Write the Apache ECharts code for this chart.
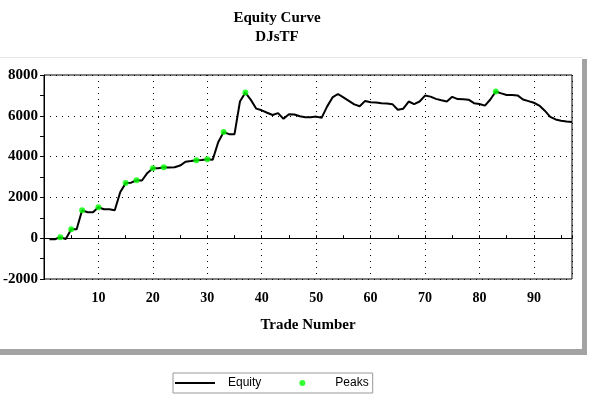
<!DOCTYPE html>
<html>
<head>
<meta charset="utf-8">
<script src="https://cdn.jsdelivr.net/npm/echarts@6/dist/echarts.min.js"></script>
<style>
  html, body { margin: 0; padding: 0; background: #fff; }
  #chart { width: 592px; height: 399px; }
</style>
</head>
<body>
<div id="chart"></div>
<script>
// equity after each trade, trade 1..97
const equity = [
  -50, -50, 50, -40, 440, 440, 1370, 1270, 1270, 1520,
  1420, 1420, 1370, 2250, 2700, 2720, 2840, 2830, 3200, 3430,
  3430, 3480, 3460, 3480, 3560, 3750, 3780, 3820, 3830, 3870,
  3850, 4700, 5200, 5100, 5100, 6700, 7140, 6780, 6350, 6270,
  6150, 6040, 6130, 5850, 6080, 6060, 5980, 5930, 5930, 5960,
  5900, 6450, 6900, 7070, 6900, 6730, 6560, 6470, 6730, 6660,
  6650, 6620, 6600, 6570, 6300, 6350, 6700, 6570, 6700, 6990,
  6940, 6830, 6760, 6700, 6930, 6820, 6810, 6790, 6620, 6580,
  6500, 6800, 7190, 7100, 7020, 7020, 7000, 6800, 6720, 6640,
  6500, 6250, 5950, 5820, 5760, 5720, 5700
];
// trades where a new equity high was made
const peakTrades = [3, 5, 7, 10, 15, 17, 20, 22, 28, 30, 33, 37, 83];
const xTicks = [10, 20, 30, 40, 50, 60, 70, 80, 90];
const yTicks = [-2000, 0, 2000, 4000, 6000, 8000];

const serif = '"Liberation Serif", "Times New Roman", serif';
const equityData = equity.map((v, i) => [i + 1, v]);
const peakData = peakTrades.map(t => [t, equity[t - 1]]);

const chart = echarts.init(document.getElementById('chart'), null, { renderer: 'canvas' });

const option = {
  animation: false,
  backgroundColor: '#fff',
  title: {
    text: 'Equity Curve\nDJsTF',
    left: 272,
    top: 4,
    textAlign: 'center',
    textStyle: { fontFamily: serif, fontWeight: 'bold', fontSize: 15, lineHeight: 19, color: '#000' }
  },
  legend: {
    data: [
      { name: 'Equity', icon: 'path://M0,0H40V2H0Z' },
      { name: 'Peaks', icon: 'circle' }
    ],
    left: 173,
    top: 373,
    itemWidth: 40,
    itemHeight: 6,
    itemGap: 38,
    padding: [4, 4, 4, 2],
    borderColor: '#999',
    borderWidth: 1,
    textStyle: { fontFamily: '"Liberation Sans", Arial, sans-serif', fontSize: 12, color: '#000', padding: [0, 0, 0, 8] }
  },
  grid: {
    left: 44, top: 75, right: 20, bottom: 120,
    show: true, borderColor: '#000', borderWidth: 1
  },
  xAxis: [
    {
      type: 'value', min: 0, max: 97, interval: 10,
      position: 'bottom',
      axisLine: { show: false, onZero: false },
      axisTick: { show: false },
      axisLabel: {
        margin: 12,
        fontFamily: serif, fontWeight: 'bold', fontSize: 14, color: '#000',
        formatter: v => (xTicks.indexOf(v) >= 0 ? String(v) : '')
      },
      splitLine: { show: true, lineStyle: { color: '#000', type: [1, 5], width: 1 } },
      name: 'Trade Number',
      nameLocation: 'middle',
      nameGap: 39,
      nameTextStyle: { fontFamily: serif, fontWeight: 'bold', fontSize: 15, color: '#000' }
    },
    {
      type: 'value', min: 0, max: 97, interval: 5,
      position: 'top',
      axisLine: { show: true, onZero: true, lineStyle: { color: '#000', width: 1 } },
      axisTick: { show: true, length: 3, lineStyle: { color: '#000' } },
      axisLabel: { show: false },
      splitLine: { show: false }
    }
  ],
  yAxis: {
    type: 'value', min: -2000, max: 8000, interval: 2000,
    axisLine: { show: true, lineStyle: { color: '#000' } },
    axisTick: { show: true, length: 4, lineStyle: { color: '#000' } },
    minorTick: { show: true, splitNumber: 2, length: 4, lineStyle: { color: '#000' } },
    axisLabel: {
      margin: 6,
      fontFamily: serif, fontWeight: 'bold', fontSize: 15, color: '#000',
      formatter: v => (yTicks.indexOf(v) >= 0 ? String(v) : '')
    },
    splitLine: { show: true, lineStyle: { color: '#000', type: [1, 5], width: 1 } }
  },
  graphic: [
    { type: 'line', shape: { x1: 0, y1: 57.5, x2: 583, y2: 57.5 }, style: { stroke: '#e6e6e6', lineWidth: 1 }, silent: true },
    { type: 'rect', shape: { x: 582, y: 59, width: 5, height: 296 }, style: { fill: '#a3a3a3' }, silent: true },
    { type: 'rect', shape: { x: 0, y: 349, width: 587, height: 6 }, style: { fill: '#a3a3a3' }, silent: true }
  ],
  series: [
    {
      name: 'Equity',
      type: 'line',
      data: equityData,
      showSymbol: false,
      lineStyle: { color: '#000', width: 2 },
      itemStyle: { color: '#000' },
      z: 3
    },
    {
      name: 'Peaks',
      type: 'scatter',
      data: peakData,
      symbolSize: 6,
      itemStyle: { color: '#00ff00' },
      z: 4
    }
  ]
};

chart.setOption(option);
</script>
</body>
</html>
